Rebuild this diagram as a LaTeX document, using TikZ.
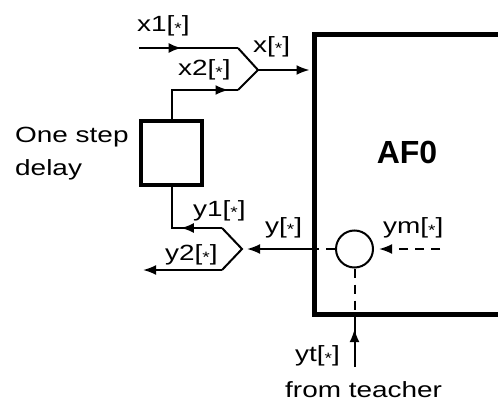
\documentclass[tikz,border=0pt]{standalone}
\usepackage{fontspec}
\setmainfont{Liberation Sans}[FakeStretch=1.27]
\newfontfamily\affont{Liberation Sans}
\usetikzlibrary{arrows.meta,decorations.markings}
\newcommand\stbr{[\raisebox{-1.5pt}{\fontsize{15}{15}\selectfont *}]}
\begin{document}
\begin{tikzpicture}[x=1pt,y=1pt,
  lbl/.style={font=\fontsize{22}{26}\selectfont, inner sep=0pt, anchor=base west},
  wire/.style={line width=2pt},
  tip/.style={-{Latex[length=13pt,width=10pt]}},
  midarrow/.style={postaction={decorate}, decoration={markings, mark=at position #1 with {\arrow{Latex[length=13pt,width=10pt]}}}},
  dsh/.style={wire, dash pattern=on 9pt off 7pt}]
\clip (0,0) rectangle (498,-404);
% blocks
\node[draw, line width=5pt, minimum width=240pt, minimum height=280pt, anchor=north west, inner sep=0pt] (af) at (312,-32) {};
\node[font=\affont\bfseries\fontsize{32}{32}\selectfont, inner sep=0pt] (aflbl) at (407,-152) {AF0};
\node[draw, line width=4pt, minimum width=61.5pt, minimum height=64.5pt, inner sep=0pt] (delay) at (171.5,-152.75) {};
\node[draw, circle, line width=2pt, minimum size=37pt, inner sep=0pt] (cmp) at (354.5,-249) {};
% coordinates
\coordinate (x1in) at (139,-48);
\coordinate (xua) at (238,-48);
\coordinate (xtip) at (258,-70);
\coordinate (xlb) at (238,-90);
\coordinate (yua) at (222,-228);
\coordinate (ytip) at (242,-249);
\coordinate (ylb) at (222,-270);
\coordinate (y2out) at (143,-270);
\coordinate (yarr) at (247,-249);
\coordinate (ymin) at (440,-249);
\coordinate (ytin) at (354.5,-367);
% upper junction
\draw[wire, midarrow=0.43] (x1in) -- (xua);
\draw[wire] (xua) -- (xtip) -- (xlb);
\draw[wire, midarrow=0.9] (delay.north) |- (xlb);
\draw[wire, tip, shorten >=2.5pt] (xtip) -- (af.west |- xtip);
% lower junction
\draw[wire, midarrow=0.45] (yua) -- (delay.south |- yua) -- (delay.south);
\draw[wire] (yua) -- (ytip) -- (ylb);
\draw[wire, tip] (ylb) -- (y2out);
\draw[wire, tip] (af.west |- ytip) -- (yarr);
\draw[dsh] (cmp.west) -- (af.west |- cmp);
\draw[dsh, tip, shorten >=5pt] (ymin) -- (cmp.east);
\draw[dsh] (cmp.south) -- (af.south -| cmp);
\draw[wire, midarrow=0.76] (ytin) -- (af.south -| cmp);
% labels
\node[lbl] (lx1) at (137,-32) {x1\stbr};
\node[lbl] (lx2) at (178,-76) {x2\stbr};
\node[lbl] (lx) at (253,-52.5) {x\stbr};
\node[lbl] (ld1) at (15,-142) {One step};
\node[lbl] (ld2) at (15,-175) {delay};
\node[lbl] (ly1) at (193,-216) {y1\stbr};
\node[lbl] (ly2) at (165,-260.5) {y2\stbr};
\node[lbl] (ly) at (265,-233) {y\stbr};
\node[lbl] (lym) at (383,-233.5) {ym\stbr};
\node[lbl] (lyt) at (295,-361.5) {yt\stbr};
\node[lbl] (lft) at (285,-397) {from teacher};
\end{tikzpicture}
\end{document}
